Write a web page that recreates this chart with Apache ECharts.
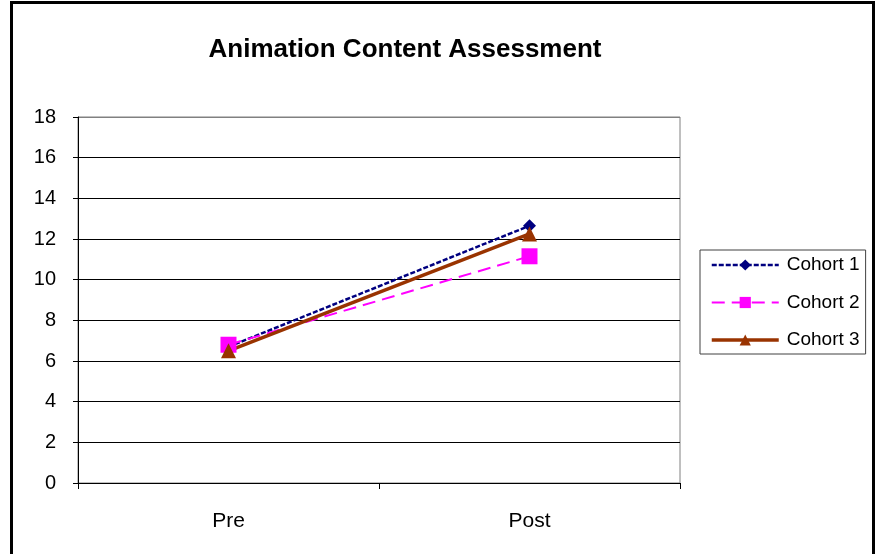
<!DOCTYPE html>
<html>
<head>
<meta charset="utf-8">
<script src="https://cdn.jsdelivr.net/npm/echarts@6/dist/echarts.min.js"></script>
<style>
html,body{margin:0;padding:0;background:#fff;}
#chart{width:875px;height:554px;}
</style>
</head>
<body>
<div id="chart"></div>
<script>
var categories = ['Pre', 'Post'];
var cohort1 = [6.7, 12.65];
var cohort2 = [6.8, 11.15];
var cohort3 = [6.5, 12.25];
var seriesNames = ['Cohort 1', 'Cohort 2', 'Cohort 3'];
var yTicks = { min: 0, max: 18, interval: 2 };
var titleText = 'Animation Content Assessment';

var chart = echarts.init(document.getElementById('chart'), null, { renderer: 'canvas' });
var font = 'Arial, "Liberation Sans", sans-serif';
var splitColors = [];
for (var i = 0; i < 9; i++) splitColors.push('#000000');
splitColors.push('#808080');

chart.setOption({
  animation: false,
  backgroundColor: '#ffffff',
  title: {
    text: titleText,
    left: 400,
    textAlign: 'center',
    top: 32,
    textStyle: { fontFamily: font, fontSize: 26, fontWeight: 'bold', color: '#000' }
  },
  graphic: [{
    type: 'rect',
    shape: { x: 11.5, y: 2.5, width: 862, height: 600 },
    style: { fill: null, stroke: '#000', lineWidth: 3 },
    silent: true
  }],
  legend: {
    orient: 'vertical',
    left: 700,
    top: 250,
    padding: [5, 6, 4, 10],
    itemWidth: 67,
    itemHeight: 14,
    itemGap: 17.5,
    borderColor: '#404040',
    borderWidth: 1,
    lineStyle: { width: 'inherit' },
    textStyle: { fontFamily: font, fontSize: 19, lineHeight: 20, color: '#000', padding: [0, 0, 0, 3] },
    data: seriesNames
  },
  grid: {
    left: 78, right: 195, top: 117, bottom: 71,
    show: true, borderColor: '#808080', borderWidth: 1, backgroundColor: '#fff'
  },
  xAxis: {
    type: 'category',
    data: categories,
    boundaryGap: true,
    axisLine: { lineStyle: { color: '#000', width: 1 } },
    axisTick: { show: true, length: 6, lineStyle: { color: '#000' } },
    axisLabel: { margin: 28, fontFamily: font, fontSize: 21, color: '#000' },
    splitLine: { show: false }
  },
  yAxis: {
    type: 'value',
    min: yTicks.min, max: yTicks.max, interval: yTicks.interval,
    axisLine: { show: true, lineStyle: { color: '#000', width: 1 } },
    axisTick: { show: true, length: 5, lineStyle: { color: '#000' } },
    axisLabel: { margin: 22, fontFamily: font, fontSize: 20, color: '#000' },
    splitLine: { show: true, lineStyle: { color: splitColors, width: 1 } }
  },
  series: [
    {
      name: seriesNames[0], type: 'line', data: cohort1,
      symbol: 'diamond', symbolSize: 13,
      itemStyle: { color: '#000080' },
      lineStyle: { color: '#000080', width: 2.5, type: [5, 2] }
    },
    {
      name: seriesNames[1], type: 'line', data: cohort2,
      symbol: 'rect', symbolSize: 16,
      itemStyle: { color: '#ff00ff' },
      lineStyle: { color: '#ff00ff', width: 2, type: [13, 7] }
    },
    {
      name: seriesNames[2], type: 'line', data: cohort3,
      symbol: 'triangle', symbolSize: 15,
      itemStyle: { color: '#993300' },
      lineStyle: { color: '#993300', width: 3.5 }
    }
  ]
});
</script>
</body>
</html>
